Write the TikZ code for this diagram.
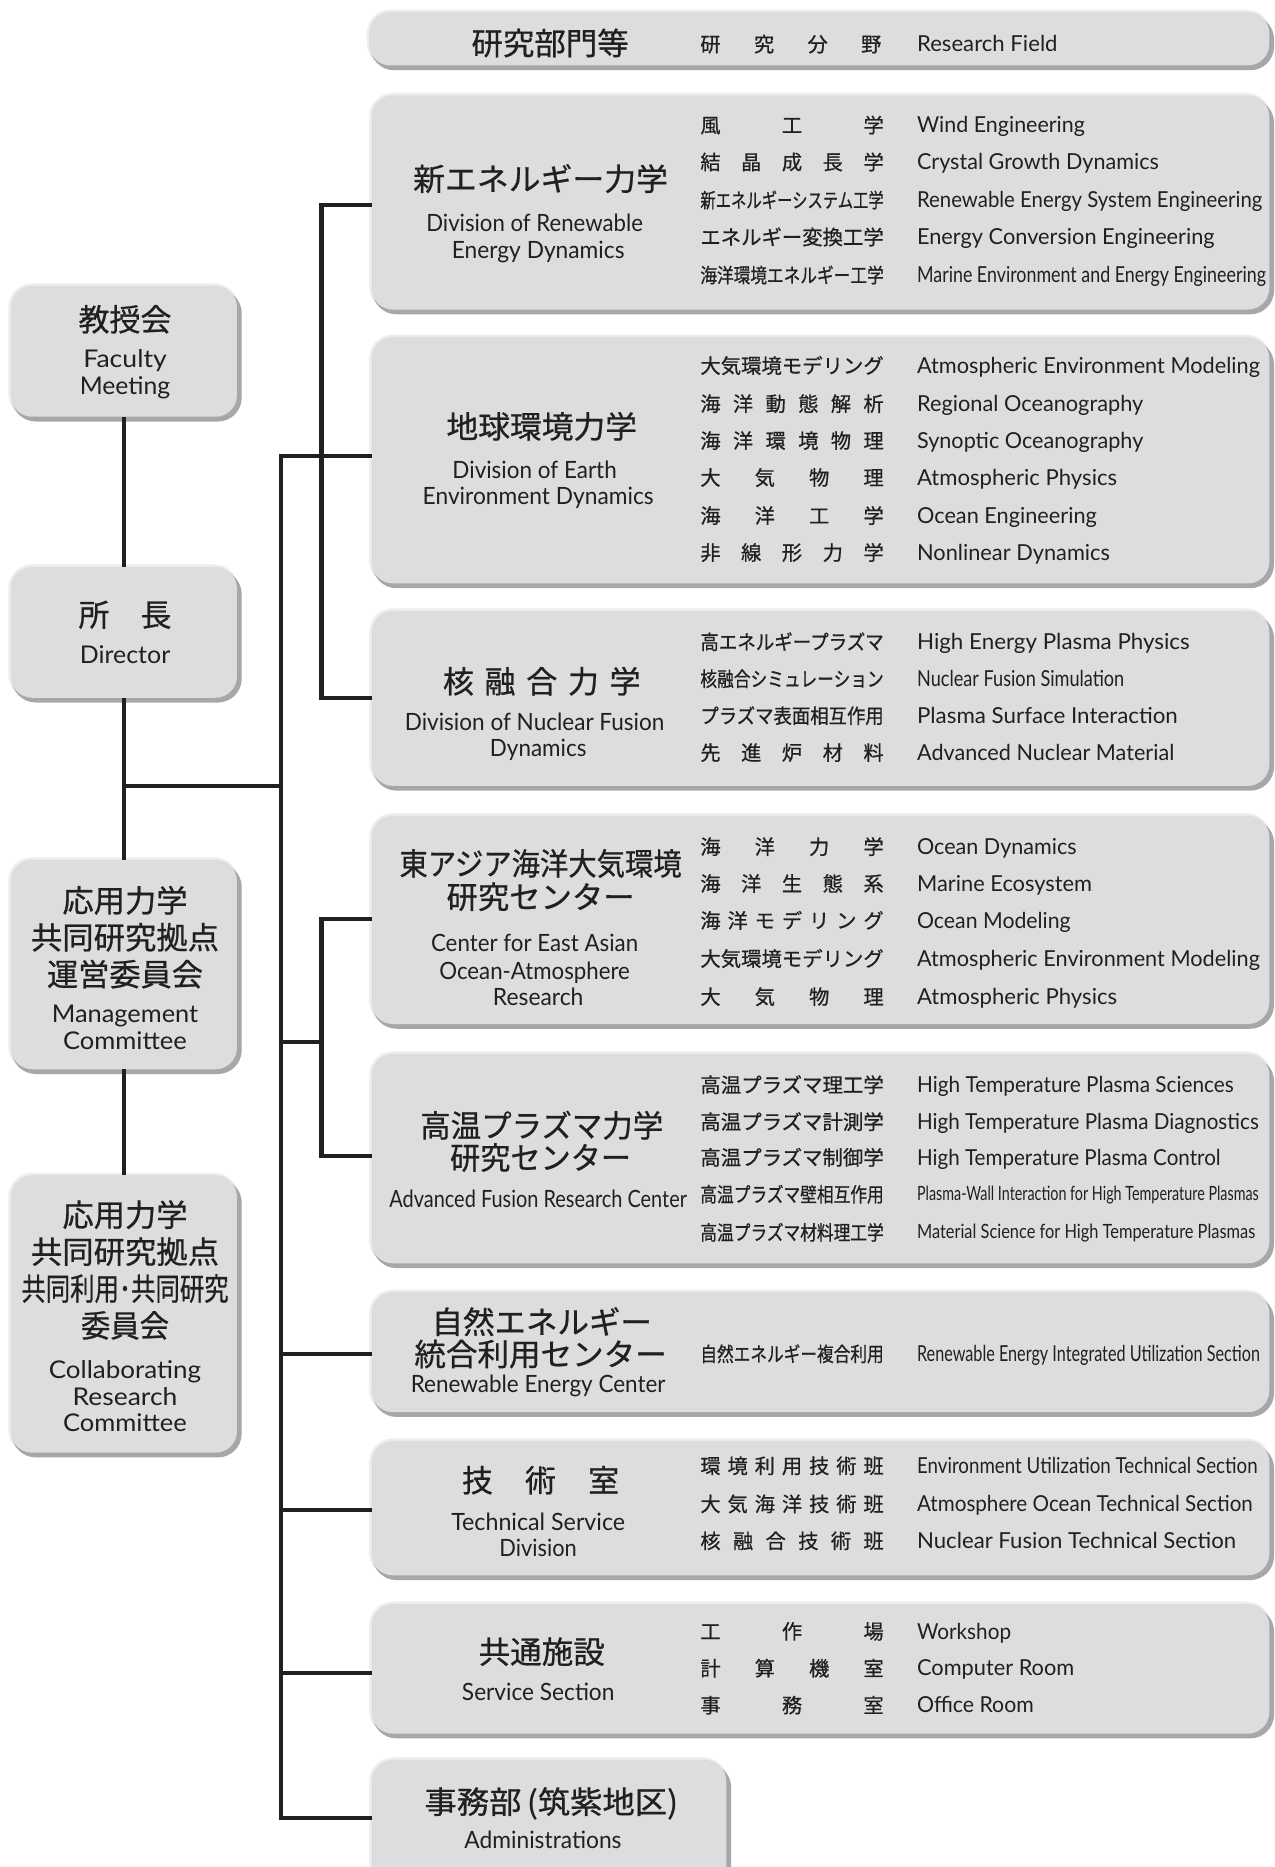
\documentclass[tikz,border=0pt]{standalone}
\usepackage{fontspec}
\usepackage{graphicx}
\newfontfamily\jpf[FakeBold=0.7]{Noto Sans CJK JP}
\newfontfamily\enf{Lato}
\definecolor{boxfill}{HTML}{DCDDDF}
\definecolor{boxshade}{HTML}{A6A7A9}
\definecolor{boxhalo}{HTML}{EEEEEF}
\definecolor{ink}{HTML}{231F20}
\newcommand\fitw[2]{\resizebox{#1pt}{\height}{#2}}
\newcommand\jsp[1]{\makebox[154pt][s]{#1}}
\newcommand\jrz[1]{\resizebox{154pt}{\height}{#1}}
\tikzset{
 mainbox/.style={draw=none, fill=boxfill, rounded corners=18pt, inner sep=0pt, outer sep=0pt},
 conn/.style={draw=ink, line width=3.6pt},
 jt/.style={anchor=base, inner sep=0pt, text=ink, font=\jpf\fontsize{26}{30}\selectfont},
 et/.style={anchor=base, inner sep=0pt, text=ink, font=\enf\fontsize{20}{24}\selectfont},
 el/.style={anchor=base, inner sep=0pt, text=ink, font=\enf\fontsize{20.5}{24}\selectfont},
 jfl/.style={anchor=base west, inner sep=0pt, text=ink, font=\jpf\fontsize{17}{20}\selectfont},
 efl/.style={anchor=base west, inner sep=0pt, text=ink, font=\enf\fontsize{18.5}{22}\selectfont},
 efs/.style={anchor=base west, inner sep=0pt, text=ink, font=\enf\fontsize{16.5}{20}\selectfont},
}
\newcommand\gbox[5]{%
 \fill[boxhalo, rounded corners=20pt] (#2,#3) rectangle (#4-3,#5-3);
 \fill[boxshade, rounded corners=20pt] (#2+3,#3+5) rectangle (#4,#5);
 \node[mainbox, minimum width={#4-4-#2-2}, minimum height={#5-4-#3-2}] (#1) at ({(#2+2+#4-4)/2},{(#3+2+#5-4)/2}) {};
}
\newcommand\frow[5]{%
 \node[jfl] (#1j) at (588,#2+6.5) {#3};
 \node[efl] (#1e) at (770,#2+6.5) {\fitw{#4}{#5}};
}
\newcommand\jtx[5]{\node[jt] (#1) at (#2,#3+10) {\fitw{#4}{#5}};}
\newcommand\etx[5]{\node[et] (#1) at (#2,#3+6.5) {\fitw{#4}{#5}};}
\newcommand\elx[5]{\node[el] (#1) at (#2,#3+7) {\fitw{#4}{#5}};}
\begin{document}
\begin{tikzpicture}[x=1pt,y=-1pt]
\useasboundingbox (0,0) rectangle (1070,1568);
\fill[white] (0,0) rectangle (1070,1568);
\clip (0,0) rectangle (1070,1568);

% ---------- boxes ----------
\gbox{hdr}{308}{8}{1070}{59}
\gbox{ren}{310}{78}{1070}{264}
\gbox{geo}{310}{281}{1070}{494}
\gbox{fus}{310}{511}{1070}{664}
\gbox{ea}{310}{683}{1070}{864}
\gbox{ht}{310}{883}{1070}{1065}
\gbox{nat}{310}{1083}{1070}{1190}
\gbox{tech}{310}{1208}{1070}{1327}
\gbox{svc}{310}{1345}{1070}{1460}
\gbox{adm}{310}{1476}{614}{1610}
\gbox{fac}{7}{238}{203}{354}
\gbox{dir}{7}{474}{203}{590}
\gbox{mgmt}{7}{720}{203}{902}
\gbox{collab}{7}{985}{203}{1224}

% ---------- connectors ----------
\draw[conn] (fac.south) -- (dir.north);
\draw[conn] (dir.south) -- (mgmt.north);
\draw[conn] (mgmt.south) -- (collab.north);
\coordinate (dj) at (104,660);
\coordinate (oj) at (236,660);
\draw[conn] (dj) -- (oj);
\coordinate (otop) at (236,383);
\coordinate (obot) at (236,1527);
\draw[conn] (otop -| geo.west) -- (otop) -- (obot) -- (obot -| adm.west);
\coordinate (i1a) at (270,172);
\coordinate (i1b) at (270,586);
\draw[conn] (i1a -| ren.west) -- (i1a) -- (i1b) -- (i1b -| fus.west);
\coordinate (i2a) at (270,772);
\coordinate (i2b) at (270,971);
\draw[conn] (i2a -| ea.west) -- (i2a) -- (i2b) -- (i2b -| ht.west);
\coordinate (o2) at (236,875);
\coordinate (i2m) at (270,875);
\draw[conn] (o2) -- (i2m);
\coordinate (bn) at (236,1137);
\draw[conn] (bn) -- (bn -| nat.west);
\coordinate (bt) at (236,1268);
\draw[conn] (bt) -- (bt -| tech.west);
\coordinate (bs) at (236,1405);
\draw[conn] (bs) -- (bs -| svc.west);

% ---------- header ----------
\jtx{hT}{462}{36}{132}{研究部門等}
\node[jfl] (hJ) at (588,37+6.5) {\makebox[152pt][s]{研\hfill 究\hfill 分\hfill 野}};
\node[efl] (hE) at (770,37+6.5) {\fitw{118}{Research Field}};

% ---------- 新エネルギー力学 ----------
\jtx{renT}{454}{150}{214}{新エネルギー力学}
\etx{renE1}{449}{188}{182}{Division of Renewable}
\etx{renE2}{452}{211}{145}{Energy Dynamics}
\frow{r1}{105}{\jsp{風\hfill 工\hfill 学}}{141}{Wind Engineering}
\frow{r2}{136}{\jsp{結\hfill 晶\hfill 成\hfill 長\hfill 学}}{203}{Crystal Growth Dynamics}
\frow{r3}{168}{\jrz{新エネルギーシステム工学}}{290}{Renewable Energy System Engineering}
\frow{r4}{199}{\jrz{エネルギー変換工学}}{250}{Energy Conversion Engineering}
\frow{r5}{231}{\jrz{海洋環境エネルギー工学}}{293}{Marine Environment and Energy Engineering}

% ---------- 地球環境力学 ----------
\jtx{geoT}{455}{358}{160}{地球環境力学}
\etx{geoE1}{449}{395}{138}{Division of Earth}
\etx{geoE2}{452}{417}{194}{Environment Dynamics}
\frow{g1}{307}{\jrz{大気環境モデリング}}{288}{Atmospheric Environment Modeling}
\frow{g2}{339}{\jsp{海\hfill 洋\hfill 動\hfill 態\hfill 解\hfill 析}}{190}{Regional Oceanography}
\frow{g3}{370}{\jsp{海\hfill 洋\hfill 環\hfill 境\hfill 物\hfill 理}}{190}{Synoptic Oceanography}
\frow{g4}{401}{\jsp{大\hfill 気\hfill 物\hfill 理}}{168}{Atmospheric Physics}
\frow{g5}{433}{\jsp{海\hfill 洋\hfill 工\hfill 学}}{151}{Ocean Engineering}
\frow{g6}{464}{\jsp{非\hfill 線\hfill 形\hfill 力\hfill 学}}{162}{Nonlinear Dynamics}

% ---------- 核融合力学 ----------
\node[jt] (fusT) at (455,572+10) {\makebox[166pt][s]{核\hfill 融\hfill 合\hfill 力\hfill 学}};
\etx{fusE1}{449}{607}{218}{Division of Nuclear Fusion}
\etx{fusE2}{452}{629}{81}{Dynamics}
\frow{f1}{539}{\jrz{高エネルギープラズマ}}{229}{High Energy Plasma Physics}
\frow{f2}{570}{\jrz{核融合シミュレーション}}{174}{Nuclear Fusion Simulation}
\frow{f3}{601}{\jrz{プラズマ表面相互作用}}{219}{Plasma Surface Interaction}
\frow{f4}{632}{\jsp{先\hfill 進\hfill 炉\hfill 材\hfill 料}}{216}{Advanced Nuclear Material}

% ---------- 東アジア ----------
\jtx{eaT1}{454}{725}{237}{東アジア海洋大気環境}
\jtx{eaT2}{454}{753}{158}{研究センター}
\etx{eaE1}{449}{793}{174}{Center for East Asian}
\etx{eaE2}{449}{816}{160}{Ocean-Atmosphere}
\etx{eaE3}{452}{838}{76}{Research}
\frow{e1}{711}{\jsp{海\hfill 洋\hfill 力\hfill 学}}{134}{Ocean Dynamics}
\frow{e2}{742}{\jsp{海\hfill 洋\hfill 生\hfill 態\hfill 系}}{147}{Marine Ecosystem}
\frow{e3}{773}{\jsp{海\hfill 洋\hfill モ\hfill デ\hfill リ\hfill ン\hfill グ}}{129}{Ocean Modeling}
\frow{e4}{805}{\jrz{大気環境モデリング}}{288}{Atmospheric Environment Modeling}
\frow{e5}{837}{\jsp{大\hfill 気\hfill 物\hfill 理}}{168}{Atmospheric Physics}

% ---------- 高温プラズマ ----------
\jtx{htT1}{455}{945}{204}{高温プラズマ力学}
\jtx{htT2}{454}{972}{152}{研究センター}
\etx{htE}{452}{1008}{250}{Advanced Fusion Research Center}
\frow{h1}{911}{\jrz{高温プラズマ理工学}}{266}{High Temperature Plasma Sciences}
\frow{h2}{942}{\jrz{高温プラズマ計測学}}{287}{High Temperature Plasma Diagnostics}
\frow{h3}{972}{\jrz{高温プラズマ制御学}}{255}{High Temperature Plasma Control}
\node[jfl] (h4j) at (588,1003+6.5) {\jrz{高温プラズマ壁相互作用}};
\node[efs] (h4e) at (770,1003+5.5) {\fitw{287}{Plasma-Wall Interaction for High Temperature Plasmas}};
\node[jfl] (h5j) at (588,1035+6.5) {\jrz{高温プラズマ材料理工学}};
\node[efs] (h5e) at (770,1035+5.5) {\fitw{284}{Material Science for High Temperature Plasmas}};

% ---------- 自然エネルギー ----------
\jtx{natT1}{455}{1110}{185}{自然エネルギー}
\jtx{natT2}{454}{1137}{212}{統合利用センター}
\etx{natE}{452}{1163}{214}{Renewable Energy Center}
\frow{n1}{1137}{\jrz{自然エネルギー複合利用}}{288}{Renewable Energy Integrated Utilization Section}

% ---------- 技術室 ----------
\node[jt] (techT) at (454,1243+10) {\makebox[132pt][s]{技\hfill 術\hfill 室}};
\etx{techE1}{452}{1279}{146}{Technical Service}
\etx{techE2}{452}{1301}{65}{Division}
\frow{t1}{1231}{\jsp{環\hfill 境\hfill 利\hfill 用\hfill 技\hfill 術\hfill 班}}{286}{Environment Utilization Technical Section}
\frow{t2}{1263}{\jsp{大\hfill 気\hfill 海\hfill 洋\hfill 技\hfill 術\hfill 班}}{282}{Atmosphere Ocean Technical Section}
\frow{t3}{1294}{\jsp{核\hfill 融\hfill 合\hfill 技\hfill 術\hfill 班}}{268}{Nuclear Fusion Technical Section}

% ---------- 共通施設 ----------
\jtx{svcT}{455}{1387}{106}{共通施設}
\etx{svcE}{452}{1422}{128}{Service Section}
\frow{s1}{1370}{\jsp{工\hfill 作\hfill 場}}{79}{Workshop}
\frow{s2}{1401}{\jsp{計\hfill 算\hfill 機\hfill 室}}{132}{Computer Room}
\frow{s3}{1432}{\jsp{事\hfill 務\hfill 室}}{98}{Office Room}

% ---------- 事務部 ----------
\jtx{admT}{463}{1513}{213}{事務部\,(筑紫地区)}
\etx{admE}{456}{1546}{132}{Administrations}

% ---------- left column ----------
\jtx{facT}{105}{268}{78}{教授会}
\elx{facE1}{105}{302}{70}{Faculty}
\elx{facE2}{105}{324}{76}{Meeting}
\node[jt] (dirT) at (105,516+10) {\makebox[78pt][s]{所\hfill 長}};
\elx{dirE}{105}{550}{76}{Director}
\jtx{mgT1}{105}{756}{105}{応用力学}
\jtx{mgT2}{105}{787}{158}{共同研究拠点}
\jtx{mgT3}{105}{818}{131}{運営委員会}
\elx{mgE1}{105}{852}{123}{Management}
\elx{mgE2}{105}{874}{104}{Committee}
\jtx{coT1}{105}{1020}{105}{応用力学}
\jtx{coT2}{105}{1051}{158}{共同研究拠点}
\jtx{coT3}{105}{1082}{174}{共同利用･共同研究}
\jtx{coT4}{105}{1113}{74}{委員会}
\elx{coE1}{105}{1151}{128}{Collaborating}
\elx{coE2}{105}{1173}{88}{Research}
\elx{coE3}{105}{1195}{104}{Committee}
\end{tikzpicture}
\end{document}
